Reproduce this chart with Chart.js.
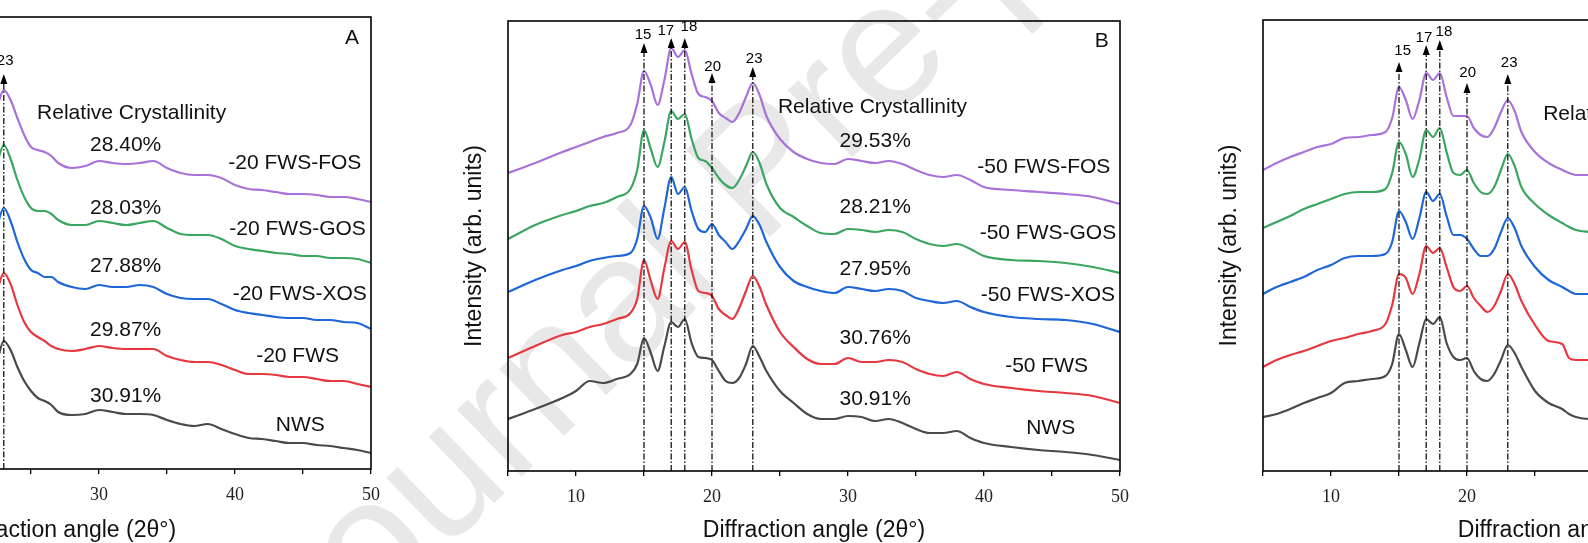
<!DOCTYPE html>
<html lang="en">
<head>
<meta charset="UTF-8">
<title>XRD patterns</title>
<script src="https://cdn.jsdelivr.net/npm/chart.js@4.4.1/dist/chart.umd.min.js"></script>
<style>
  html, body { margin: 0; padding: 0; background: #fff; overflow: hidden; }
  body { width: 1588px; height: 543px; position: relative; }
  canvas { position: absolute; top: 0; }
</style>
</head>
<body>
<canvas id="mark" width="1588" height="543" style="left:0"></canvas>
<canvas id="panelA" width="700" height="543" style="left:-309px"></canvas>
<canvas id="panelB" width="700" height="543" style="left:440px"></canvas>
<canvas id="panelC" width="700" height="543" style="left:1195px"></canvas>

<script>
// diffraction angles (2theta) and intensities (arb. units)
const angA = [22, 22.5, 23, 23.5, 24, 24.5, 25, 25.5, 26, 26.5, 27,
  28, 29, 30, 31, 32, 33, 34, 35, 36, 37, 38, 39, 40, 41, 42, 43, 44, 45, 46, 47, 48, 49, 50];
const nwsA = [94, 108, 128, 119, 102, 88, 78, 71, 68, 64, 57,
  54, 55, 59, 57, 55, 55, 54, 49, 45, 43, 45, 40, 35, 31, 30, 28, 26, 26, 24, 23, 21, 19, 16];
const fwsA = [160, 178, 196, 185, 164, 147, 137, 132, 128, 123, 120,
  118, 120, 123, 121, 120, 120, 120, 113, 109, 107, 107, 104, 99, 95, 95, 94, 92, 92, 90, 88, 88, 85, 82];
const xosA = [225, 243, 261, 248, 227, 210, 199, 196, 192, 192, 187,
  182, 180, 184, 182, 182, 184, 182, 175, 171, 170, 170, 165, 159, 156, 154, 152, 151, 151, 149, 149, 147, 146, 140];
const gosA = [290, 306, 324, 310, 289, 272, 261, 258, 258, 255, 249,
  244, 244, 248, 246, 244, 246, 248, 241, 235, 234, 234, 230, 223, 220, 218, 216, 215, 213, 213, 211, 211, 210, 206];
const fosA = [345, 362, 379, 369, 351, 334, 322, 319, 317, 313, 306,
  301, 303, 308, 306, 305, 306, 308, 301, 296, 294, 294, 291, 284, 280, 279, 277, 275, 275, 274, 272, 272, 270, 267];

const angB = [5, 7, 9, 10, 11, 12, 13, 14,
  14.5, 15, 15.5, 16, 16.5, 17, 17.5, 18, 18.5, 19, 19.5, 20, 20.5, 21, 21.5, 22, 22.5, 23, 23.5, 24,
  25, 26, 27, 28, 29, 30, 31, 32, 33, 34, 35, 36, 37, 38, 39, 40, 42, 44, 46, 48, 50];
const nwsB = [52, 62, 73, 80, 90, 88, 92, 97,
  107, 133, 118, 100, 125, 149, 144, 152, 128, 114, 113, 111, 100, 90, 88, 93, 107, 125, 114, 100,
  80, 68, 57, 52, 52, 55, 54, 50, 52, 48, 42, 38, 38, 40, 33, 28, 24, 21, 19, 16, 11];
const fwsB = [113, 125, 136, 139, 144, 147, 152, 158,
  172, 211, 190, 172, 203, 230, 222, 229, 201, 180, 178, 175, 162, 156, 152, 163, 180, 195, 184, 166,
  139, 124, 112, 107, 107, 113, 109, 109, 111, 109, 102, 97, 95, 99, 92, 87, 83, 80, 78, 75, 68];
const xosB = [179, 191, 201, 205, 210, 213, 215, 218,
  232, 265, 253, 232, 263, 294, 277, 284, 260, 242, 239, 247, 236, 229, 222, 230, 242, 255, 246, 229,
  204, 190, 184, 180, 178, 184, 182, 180, 182, 180, 173, 170, 168, 170, 164, 159, 154, 152, 151, 147, 139];
const gosB = [232, 246, 256, 260, 265, 268, 274, 282,
  301, 341, 322, 304, 329, 360, 352, 357, 332, 313, 310, 303, 293, 286, 283, 291, 305, 319, 308, 287,
  263, 254, 245, 238, 237, 242, 241, 239, 241, 239, 232, 227, 225, 227, 222, 215, 211, 210, 208, 204, 198];
const fosB = [298, 308, 319, 324, 329, 334, 338, 346,
  367, 400, 386, 366, 391, 423, 414, 421, 397, 377, 374, 370, 358, 353, 349, 358, 374, 388, 376, 355,
  332, 319, 312, 308, 307, 312, 310, 308, 310, 307, 301, 296, 294, 296, 291, 284, 281, 279, 277, 274, 267];

const angC = [5, 6, 7, 8, 9, 10, 11, 12, 13, 14,
  14.5, 15, 15.5, 16, 16.5, 17, 17.5, 18, 18.5, 19, 19.5, 20, 20.5, 21, 21.5, 22, 22.5, 23, 23.5, 24,
  25, 26, 27, 27.5, 28, 29, 30];
const nwsC = [54, 57, 62, 68, 73, 78, 88, 90, 92, 95,
  107, 137, 121, 104, 128, 152, 147, 154, 128, 114, 111, 113, 100, 92, 90, 97, 111, 126, 118, 104,
  80, 68, 62, 57, 54, 52, 54];
const fwsC = [104, 111, 116, 120, 125, 130, 133, 137, 140, 147,
  166, 197, 193, 177, 197, 225, 218, 223, 204, 184, 180, 185, 173, 165, 159, 165, 180, 197, 187, 170,
  146, 130, 127, 113, 111, 111, 110];
const xosC = [177, 184, 189, 194, 201, 206, 213, 215, 215, 217,
  229, 260, 249, 232, 253, 279, 270, 277, 255, 236, 236, 232, 222, 215, 215, 222, 239, 253, 243, 225,
  204, 191, 184, 180, 177, 177, 176];
const gosC = [243, 249, 255, 262, 267, 272, 277, 279, 279, 282,
  298, 329, 317, 294, 312, 341, 334, 343, 319, 298, 296, 301, 288, 279, 277, 284, 301, 317, 305, 284,
  267, 256, 248, 244, 241, 239, 238];
const fosC = [301, 308, 314, 319, 324, 327, 333, 334, 336, 339,
  353, 384, 371, 352, 371, 398, 391, 398, 374, 355, 355, 355, 343, 336, 334, 343, 359, 371, 360, 339,
  319, 308, 301, 298, 296, 296, 295];

const samplesA = ['NWS', '-20 FWS', '-20 FWS-XOS', '-20 FWS-GOS', '-20 FWS-FOS'];
const samplesB = ['NWS', '-50 FWS', '-50 FWS-XOS', '-50 FWS-GOS', '-50 FWS-FOS'];
const crystA = ['30.91%', '29.87%', '27.88%', '28.03%', '28.40%'];
const crystB = ['30.91%', '30.76%', '27.95%', '28.21%', '29.53%'];
const peaks = [15, 17, 18, 20, 23];

const colors = ['#4a4a4a', '#e5383f', '#1f66d6', '#3aa65f', '#a872d8'];

// where the annotations sit, in axis units
const layoutA = {
  top: 17, bottom: 469, letter: ['A', 48.6, 431], title: [32.4, 356],
  crystX: 31.96, crystY: [73, 139, 203, 261, 324],
  nameX: [44.8, 44.6, 44.76, 44.6, 44.4], nameY: [44, 113, 175, 240, 306],
  tips: [428, 433, 433, 398, 395],
  peakLabels: [[14.93, 436], [16.67, 440], [18.24, 444], [20.05, 404], [23.1, 408]]
};
const layoutB = {
  top: 21, bottom: 471, letter: ['B', 48.65, 430], title: [31.8, 364],
  crystX: 32.0, crystY: [72, 133, 202, 264, 330],
  nameX: [44.9, 44.6, 44.7, 44.7, 44.4], nameY: [43, 105, 176, 238, 304],
  tips: [428, 433, 433, 398, 404],
  peakLabels: [[14.93, 436], [16.6, 440], [18.3, 444], [20.05, 404], [23.1, 412]]
};
const layoutC = {
  top: 20, bottom: 471, letter: null, title: [32.55, 357],
  tips: [409, 426, 431, 388, 397],
  peakLabels: [[15.27, 420], [16.83, 433], [18.3, 439], [20.05, 398], [23.1, 408]]
};

const SANS = '"Liberation Sans", Arial, sans-serif';

function decor(lay, names, cryst) {
  return {
    id: 'decor',
    afterDatasetsDraw(chart) {
      const { ctx, chartArea: a, scales: { x, y } } = chart;
      ctx.save();
      ctx.beginPath();
      ctx.rect(a.left, a.top, a.width, a.height);
      ctx.clip();
      peaks.forEach((p, i) => {
        const px = x.getPixelForValue(p);
        const tip = y.getPixelForValue(lay.tips[i]);
        ctx.strokeStyle = '#000';
        ctx.lineWidth = 1.2;
        ctx.setLineDash([6, 2, 1.5, 2]);
        ctx.beginPath();
        ctx.moveTo(px, a.bottom);
        ctx.lineTo(px, tip + 9);
        ctx.stroke();
        ctx.setLineDash([]);
        ctx.fillStyle = '#000';
        ctx.beginPath();
        ctx.moveTo(px, tip);
        ctx.lineTo(px - 3.5, tip + 10);
        ctx.lineTo(px + 3.5, tip + 10);
        ctx.closePath();
        ctx.fill();
        ctx.font = '15px ' + SANS;
        ctx.textAlign = 'center';
        ctx.textBaseline = 'middle';
        const lp = lay.peakLabels[i];
        ctx.fillText(String(p), x.getPixelForValue(lp[0]), y.getPixelForValue(lp[1]));
      });
      ctx.restore();

      ctx.save();
      ctx.fillStyle = '#111';
      ctx.textAlign = 'center';
      ctx.textBaseline = 'middle';
      ctx.font = '21px ' + SANS;
      ctx.fillText('Relative Crystallinity', x.getPixelForValue(lay.title[0]), y.getPixelForValue(lay.title[1]));
      if (cryst) {
        cryst.forEach((c, i) => {
          ctx.fillText(c, x.getPixelForValue(lay.crystX), y.getPixelForValue(lay.crystY[i]));
          ctx.fillText(names[i], x.getPixelForValue(lay.nameX[i]), y.getPixelForValue(lay.nameY[i]));
        });
      }
      if (lay.letter) {
        ctx.fillText(lay.letter[0], x.getPixelForValue(lay.letter[1]), y.getPixelForValue(lay.letter[2]));
      }
      ctx.strokeStyle = '#000';
      ctx.lineWidth = 1.6;
      ctx.strokeRect(a.left, a.top, a.width, a.height);
      ctx.restore();
    }
  };
}

function makePanel(id, angles, series, names, cryst, lay) {
  new Chart(document.getElementById(id), {
    type: 'line',
    data: {
      datasets: series.map((ys, i) => ({
        label: names[i],
        data: angles.map((a, j) => ({ x: a, y: ys[j] })),
        borderColor: colors[i],
        borderWidth: 2.2,
        pointRadius: 0,
        cubicInterpolationMode: 'monotone',
        fill: false
      }))
    },
    options: {
      responsive: false,
      animation: false,
      devicePixelRatio: 1,
      layout: { padding: { top: lay.top, right: 20, left: 0, bottom: 0 } },
      plugins: { legend: { display: false }, tooltip: { enabled: false } },
      scales: {
        x: {
          type: 'linear', min: 5, max: 50,
          afterFit: s => { s.height = 543 - lay.bottom; },
          ticks: {
            stepSize: 5, autoSkip: false, maxRotation: 0, padding: 10, color: '#222',
            font: { family: '"Liberation Serif", "Times New Roman", serif', size: 18 },
            callback: v => (v % 10 === 0 ? v : '')
          },
          grid: { drawOnChartArea: false, drawTicks: true, tickLength: 5, color: '#000', lineWidth: 1.3 },
          border: { display: false },
          title: {
            display: true, text: 'Diffraction angle (2θ°)', color: '#111',
            font: { family: SANS, size: 23, lineHeight: 1.1 }, padding: 0
          }
        },
        y: {
          min: 0, max: lay.bottom - lay.top,
          afterFit: s => { s.width = 68; },
          ticks: { display: false },
          grid: { display: false },
          border: { display: false },
          title: {
            display: true, text: 'Intensity (arb. units)', color: '#111',
            font: { family: SANS, size: 23 }, padding: { top: 21, bottom: 0 }
          }
        }
      }
    },
    plugins: [decor(lay, names, cryst)]
  });
}

// watermark
const mk = document.getElementById('mark').getContext('2d');
mk.fillStyle = '#e8e8e8';
mk.font = '176px ' + SANS;
mk.translate(309, 682);
mk.rotate(-44 * Math.PI / 180);
mk.fillText('Journal Pre-proof', 0, 0);

makePanel('panelA', angA, [nwsA, fwsA, xosA, gosA, fosA], samplesA, crystA, layoutA);
makePanel('panelB', angB, [nwsB, fwsB, xosB, gosB, fosB], samplesB, crystB, layoutB);
makePanel('panelC', angC, [nwsC, fwsC, xosC, gosC, fosC], samplesB, null, layoutC);
</script>
</body>
</html>
